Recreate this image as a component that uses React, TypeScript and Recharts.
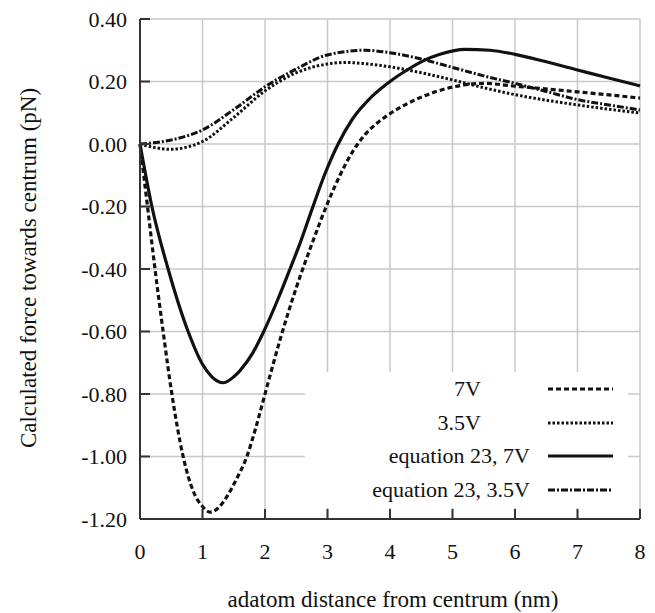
import { CartesianGrid, Legend, Line, LineChart, XAxis, YAxis } from "recharts";

const xTicks = [0, 1, 2, 3, 4, 5, 6, 7, 8];
const yTicks = [-1.2, -1.0, -0.8, -0.6, -0.4, -0.2, 0, 0.2, 0.4];

// 7V (dashed)
const v7X = [0, 0.12, 0.24, 0.37, 0.51, 0.69, 0.85, 1.0, 1.12, 1.25, 1.4, 1.55, 1.71, 1.85, 2.0, 2.25, 2.5, 2.75, 3.0, 3.2, 3.4, 3.6, 3.8, 4.0, 4.5, 5.0, 5.5, 6.0, 7.0, 8.0];
const v7Y = [0, -0.2, -0.4, -0.6, -0.8, -1.0, -1.11, -1.16, -1.178, -1.165, -1.125, -1.07, -1.0, -0.91, -0.8, -0.62, -0.46, -0.32, -0.19, -0.1, -0.025, 0.03, 0.068, 0.097, 0.15, 0.182, 0.194, 0.185, 0.167, 0.147];

// 3.5V (dotted)
const v35X = [0, 0.25, 0.5, 0.75, 1.0, 1.5, 2.0, 2.5, 3.0, 3.3, 3.6, 4.0, 4.5, 5.0, 5.5, 6.0, 7.0, 8.0];
const v35Y = [0, -0.012, -0.017, -0.01, 0.008, 0.085, 0.17, 0.228, 0.256, 0.261, 0.257, 0.247, 0.228, 0.205, 0.18, 0.158, 0.125, 0.099];

// equation 23, 7V (solid)
const eq7X = [0, 0.19, 0.45, 0.77, 1.0, 1.15, 1.33, 1.5, 1.6, 1.8, 1.98, 2.2, 2.4, 2.56, 2.75, 2.95, 3.17, 3.4, 3.7, 4.0, 4.3, 4.53, 4.8, 5.2, 5.6, 6.0, 6.5, 7.0, 7.5, 8.0];
const eq7Y = [0, -0.2, -0.4, -0.6, -0.705, -0.745, -0.764, -0.745, -0.725, -0.67, -0.6, -0.5, -0.4, -0.318, -0.21, -0.1, 0, 0.08, 0.15, 0.2, 0.24, 0.266, 0.287, 0.303, 0.3, 0.287, 0.263, 0.237, 0.211, 0.186];

// equation 23, 3.5V (dash-dot)
const eq35X = [0, 0.5, 1.0, 1.5, 2.0, 2.5, 3.0, 3.6, 4.0, 4.5, 5.0, 5.5, 6.0, 6.5, 7.0, 7.5, 8.0];
const eq35Y = [0, 0.013, 0.045, 0.11, 0.183, 0.24, 0.285, 0.3, 0.292, 0.272, 0.245, 0.218, 0.194, 0.168, 0.142, 0.125, 0.109];

const toPoints = (xs: number[], ys: number[]) => xs.map((x, i) => ({ x, y: ys[i] }));

const series = [
  { name: "7V", data: toPoints(v7X, v7Y), dash: "5 3", width: 3.2, textRight: 147 },
  { name: "3.5V", data: toPoints(v35X, v35Y), dash: "2.5 2", width: 3, textRight: 147 },
  { name: "equation 23, 7V", data: toPoints(eq7X, eq7Y), dash: undefined, width: 3.2, textRight: 98 },
  { name: "equation 23, 3.5V", data: toPoints(eq35X, eq35Y), dash: "7 2 2 2", width: 3, textRight: 98 },
];

const INK = "#111";
const FRAME = "#333";

function BottomTick({ x, y, payload }: any) {
  return (
    <g>
      <line x1={x} y1={y} x2={x} y2={y - 10} stroke={FRAME} strokeWidth={2} />
      <text x={x} y={y + 40} textAnchor="middle" fill={INK} fontSize={22}>
        {payload.value}
      </text>
    </g>
  );
}

function LeftTick({ x, y, payload }: any) {
  return (
    <g>
      <line x1={x} y1={y} x2={x + 10} y2={y} stroke={FRAME} strokeWidth={2} />
      <text x={x - 13} y={y + 7.5} textAnchor="end" fill={INK} fontSize={22}>
        {payload.value.toFixed(2)}
      </text>
    </g>
  );
}

function TopTick({ x, y }: any) {
  return <line x1={x} y1={y} x2={x} y2={y + 10} stroke={FRAME} strokeWidth={2} />;
}

function RightTick({ x, y }: any) {
  return <line x1={x} y1={y} x2={x - 10} y2={y} stroke={FRAME} strokeWidth={2} />;
}

function LegendBox() {
  return (
    <div style={{ position: "relative", width: 323, height: 136, background: "#fff" }}>
      {series.map((s, i) => (
        <div key={s.name}>
          <span
            style={{
              position: "absolute",
              right: s.textRight,
              top: 33.7 * i,
              lineHeight: "34px",
              fontSize: 22,
              color: INK,
              whiteSpace: "nowrap",
            }}
          >
            {s.name}
          </span>
          <svg style={{ position: "absolute", left: 243, top: 33.7 * i }} width={66} height={34}>
            <line x1={0} y1={17} x2={65} y2={17} stroke={INK} strokeWidth={s.width} strokeDasharray={s.dash} />
          </svg>
        </div>
      ))}
    </div>
  );
}

export default function App() {
  return (
    <div
      style={{
        position: "absolute",
        left: 0,
        top: 0,
        width: 655,
        height: 613,
        background: "#fff",
        fontFamily: "'Liberation Serif', 'DejaVu Serif', serif",
      }}
    >
      <LineChart width={655} height={613} margin={{ top: 19, right: 15, bottom: 0, left: 0 }}>
        <CartesianGrid stroke="#c8c8c8" strokeWidth={1.5} />
        <XAxis
          type="number"
          dataKey="x"
          domain={[0, 8]}
          ticks={xTicks}
          height={94}
          tickSize={0}
          tickMargin={0}
          tickLine={false}
          axisLine={{ stroke: FRAME, strokeWidth: 2 }}
          tick={<BottomTick />}
          label={{
            content: ({ viewBox }: any) => (
              <text x={viewBox.x + viewBox.width / 2 + 3} y={607} textAnchor="middle" fill={INK} fontSize={23}>
                adatom distance from centrum (nm)
              </text>
            ),
          }}
        />
        <XAxis
          xAxisId="top"
          orientation="top"
          type="number"
          domain={[0, 8]}
          ticks={xTicks}
          height={0}
          tickSize={0}
          tickMargin={0}
          tickLine={false}
          allowDataOverflow
          axisLine={{ stroke: FRAME, strokeWidth: 2 }}
          tick={<TopTick />}
        />
        <YAxis
          type="number"
          domain={[-1.2, 0.4]}
          ticks={yTicks}
          width={140}
          tickSize={0}
          tickMargin={0}
          tickLine={false}
          axisLine={{ stroke: FRAME, strokeWidth: 2 }}
          tick={<LeftTick />}
          label={{
            content: ({ viewBox }: any) => {
              const cy = viewBox.y + viewBox.height / 2 - 1;
              return (
                <text x={28} y={cy} transform={`rotate(-90 28 ${cy})`} textAnchor="middle" dominantBaseline="central" fill={INK} fontSize={23}>
                  Calculated force towards centrum (pN)
                </text>
              );
            },
          }}
        />
        <YAxis
          yAxisId="right"
          orientation="right"
          type="number"
          domain={[-1.2, 0.4]}
          ticks={yTicks}
          width={0}
          tickSize={0}
          tickMargin={0}
          tickLine={false}
          allowDataOverflow
          axisLine={{ stroke: FRAME, strokeWidth: 2 }}
          tick={<RightTick />}
        />
        <Legend
          layout="horizontal"
          verticalAlign="middle"
          align="center"
          wrapperStyle={{ left: 305, top: 372, width: 323, height: 136 }}
          content={() => <LegendBox />}
        />
        {series.map((s) => (
          <Line
            key={s.name}
            name={s.name}
            data={s.data}
            dataKey="y"
            type="monotone"
            stroke={INK}
            strokeWidth={s.width}
            strokeDasharray={s.dash}
            dot={false}
            activeDot={false}
            isAnimationActive={false}
          />
        ))}
      </LineChart>
    </div>
  );
}
